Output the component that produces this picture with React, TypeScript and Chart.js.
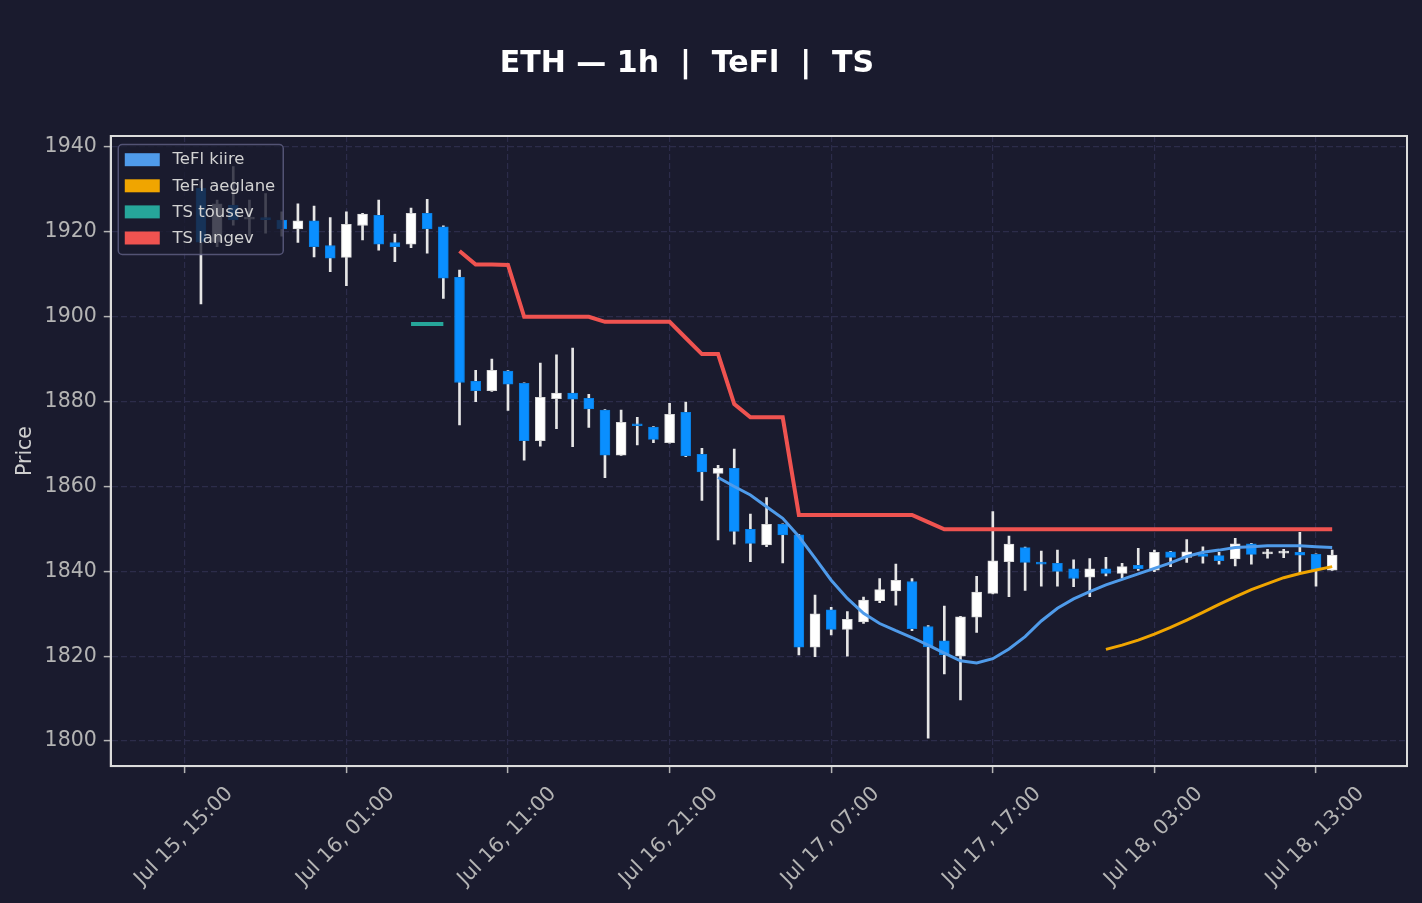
import { useEffect, useRef } from "react";
import { Chart, registerables } from "chart.js";

Chart.register(...registerables);

// hourly candles, index 0 = Jul 15 16:00
const opens = [
  1930.3, 1917.6, 1926.3, 1923.0, 1923.1, 1922.8, 1920.7, 1922.6, 1916.8, 1914.0,
  1921.5, 1923.9, 1917.5, 1917.1, 1924.4, 1921.2, 1909.3, 1884.8, 1882.6, 1887.2,
  1884.3, 1870.8, 1880.7, 1882.0, 1880.8, 1878.0, 1867.4, 1874.6, 1874.0, 1870.3,
  1877.5, 1867.6, 1863.1, 1864.3, 1849.9, 1846.2, 1851.1, 1848.6, 1822.1, 1830.9,
  1826.3, 1828.1, 1833.1, 1835.4, 1837.6, 1827.0, 1823.6, 1820.0, 1829.2, 1834.8,
  1842.3, 1845.6, 1842.0, 1841.9, 1840.6, 1838.6, 1840.6, 1839.5, 1841.4, 1840.3,
  1844.6, 1843.3, 1844.1, 1843.7, 1842.9, 1846.5, 1844.1, 1844.3, 1844.5, 1844.0,
  1840.3,
];
const highs = [
  1932.0, 1927.5, 1935.4, 1927.5, 1929.0, 1924.7, 1926.6, 1926.1, 1923.4, 1924.7,
  1924.4, 1927.5, 1919.5, 1925.6, 1927.7, 1921.4, 1911.0, 1887.4, 1890.0, 1887.3,
  1884.4, 1889.1, 1891.0, 1892.6, 1881.7, 1878.1, 1878.0, 1876.3, 1874.1, 1879.6,
  1879.9, 1869.0, 1865.0, 1868.8, 1853.5, 1857.4, 1851.2, 1848.7, 1834.4, 1831.5,
  1830.5, 1833.9, 1838.3, 1841.7, 1838.3, 1827.2, 1831.8, 1829.4, 1838.8, 1854.1,
  1848.3, 1845.7, 1844.8, 1845.0, 1842.7, 1843.0, 1843.3, 1841.9, 1845.4, 1845.0,
  1844.7, 1847.5, 1845.8, 1844.5, 1847.8, 1846.6, 1845.2, 1845.2, 1849.2, 1844.1,
  1845.0,
];
const lows = [
  1903.0, 1916.5, 1921.6, 1919.0, 1919.7, 1919.0, 1917.5, 1914.1, 1910.6, 1907.3,
  1918.1, 1915.7, 1913.0, 1916.3, 1915.0, 1904.3, 1874.5, 1880.0, 1882.4, 1877.9,
  1866.2, 1869.5, 1873.6, 1869.4, 1873.9, 1862.1, 1867.3, 1869.8, 1870.3, 1870.2,
  1867.0, 1856.7, 1847.4, 1846.4, 1842.3, 1845.8, 1842.0, 1820.3, 1819.9, 1825.0,
  1820.0, 1827.7, 1832.6, 1832.0, 1826.0, 1800.7, 1815.8, 1809.7, 1825.6, 1834.7,
  1834.0, 1835.5, 1836.5, 1836.5, 1836.4, 1834.0, 1838.9, 1838.5, 1840.2, 1839.9,
  1841.1, 1842.1, 1841.9, 1841.7, 1841.3, 1841.7, 1843.1, 1843.2, 1839.5, 1836.5,
  1840.2,
];
const closes = [
  1917.6, 1926.6, 1922.8, 1923.2, 1922.9, 1920.7, 1922.6, 1916.5, 1913.8, 1921.8,
  1924.2, 1917.1, 1916.5, 1924.4, 1920.7, 1909.1, 1884.5, 1882.6, 1887.4, 1884.1,
  1870.8, 1881.0, 1882.0, 1880.6, 1878.3, 1867.4, 1875.1, 1874.3, 1871.1, 1877.0,
  1867.2, 1863.4, 1864.3, 1849.4, 1846.6, 1851.1, 1848.6, 1822.1, 1830.0, 1826.3,
  1828.7, 1833.2, 1835.7, 1837.9, 1826.5, 1822.2, 1820.3, 1829.3, 1835.1, 1842.5,
  1846.4, 1842.1, 1841.7, 1840.0, 1838.3, 1840.6, 1839.5, 1841.1, 1840.6, 1844.5,
  1843.3, 1844.6, 1843.5, 1842.5, 1846.5, 1844.0, 1844.3, 1844.5, 1843.8, 1840.3,
  1843.8,
];

const N = null;
const tefiKiire = [
  N, N, N, N, N, N, N, N, N, N, N, N, N, N, N, N, N, N, N, N,
  N, N, N, N, N, N, N, N, N, N, N, N,
  1862.1, 1860.0, 1858.0, 1855.2, 1852.5, 1848.2, 1843.1, 1837.9, 1833.6, 1830.1,
  1827.7, 1826.0, 1824.4, 1822.6, 1820.7, 1818.9, 1818.4, 1819.4, 1821.7, 1824.6,
  1828.3, 1831.3, 1833.5, 1835.2, 1836.8, 1838.1, 1839.4, 1840.7, 1842.0, 1843.5,
  1844.5, 1845.0, 1845.6, 1845.8, 1846.0, 1846.0, 1846.0, 1845.8, 1845.6,
];
const tefiAeglane = [
  N, N, N, N, N, N, N, N, N, N, N, N, N, N, N, N, N, N, N, N,
  N, N, N, N, N, N, N, N, N, N, N, N, N, N, N, N, N, N, N, N,
  N, N, N, N, N, N, N, N, N, N, N, N, N, N, N, N,
  1821.6, 1822.6, 1823.8, 1825.2, 1826.8, 1828.5, 1830.3, 1832.2, 1834.0, 1835.7,
  1837.1, 1838.5, 1839.5, 1840.3, 1841.1,
];
const tsTousev = [
  N, N, N, N, N, N, N, N, N, N, N, N, N,
  1898.3, 1898.3, 1898.3,
];
const tsLangev = [
  N, N, N, N, N, N, N, N, N, N, N, N, N, N, N, N,
  1915.5, 1912.3, 1912.3, 1912.2, 1900.0, 1900.0, 1900.0, 1900.0, 1900.0, 1898.8,
  1898.8, 1898.8, 1898.8, 1898.8, 1895.0, 1891.2, 1891.2, 1879.4, 1876.3, 1876.3,
  1876.3, 1853.3, 1853.3, 1853.3, 1853.3, 1853.3, 1853.3, 1853.3, 1853.3, 1851.6,
  1849.9, 1849.9, 1849.9, 1849.9, 1849.9, 1849.9, 1849.9, 1849.9, 1849.9, 1849.9,
  1849.9, 1849.9, 1849.9, 1849.9, 1849.9, 1849.9, 1849.9, 1849.9, 1849.9, 1849.9,
  1849.9, 1849.9, 1849.9, 1849.9, 1849.9,
];

// x tick positions in hours relative to first candle, and their labels
const tickHours = [-1, 9, 19, 29, 39, 49, 59, 69];
const tickLabels = [
  "Jul 15, 15:00", "Jul 16, 01:00", "Jul 16, 11:00", "Jul 16, 21:00",
  "Jul 17, 07:00", "Jul 17, 17:00", "Jul 18, 03:00", "Jul 18, 13:00",
];
const priceTicks = [1800, 1820, 1840, 1860, 1880, 1900, 1920, 1940];

const seriesNames = ["TeFl kiire", "TeFl aeglane", "TS tõusev", "TS langev"];
const seriesColors = ["#4f9bea", "#f0a500", "#26a69a", "#ef5350"];
const titleText = "ETH — 1h  |  TeFl  |  TS";

const BG = "#1a1b2e";
const UP = "#ffffff";
const DOWN = "#0a8fff";
const FONT = '"DejaVu Sans", sans-serif';
const TICK_FONT = 20.5;

export default function App() {
  const ref = useRef<HTMLCanvasElement | null>(null);

  useEffect(() => {
    document.body.style.margin = "0";
    document.body.style.background = BG;
    const canvas = ref.current;
    if (!canvas) return;

    const idx = opens.map((_, i) => i);
    const isUp = idx.map((i) => closes[i] >= opens[i]);
    const toPts = (arr: (number | null)[]) =>
      idx.map((i) => ({ x: i, y: i < arr.length ? arr[i] : null }));

    const legendPlugin = {
      id: "boxLegend",
      afterDatasetsDraw(chart: any) {
        const { ctx, chartArea } = chart;
        ctx.save();
        ctx.font = `16.5px ${FONT}`;
        const x0 = chartArea.left + 7.5;
        const y0 = chartArea.top + 8.5;
        const maxW = Math.max(...seriesNames.map((n) => ctx.measureText(n).width));
        const w = 54.2 + maxW + 8;
        const h = 110;
        ctx.beginPath();
        ctx.roundRect(x0, y0, w, h, 4);
        ctx.fillStyle = "rgba(26,27,46,0.8)";
        ctx.fill();
        ctx.lineWidth = 1.5;
        ctx.strokeStyle = "rgba(90,90,125,0.9)";
        ctx.stroke();
        ctx.textBaseline = "middle";
        ctx.textAlign = "left";
        seriesNames.forEach((n, k) => {
          const cy = y0 + 15.2 + k * 26.1;
          ctx.fillStyle = seriesColors[k];
          ctx.fillRect(x0 + 6.5, cy - 6.5, 35, 13);
          ctx.fillStyle = "#d2d2d2";
          ctx.fillText(n, x0 + 54.2, cy + 0.5);
        });
        ctx.restore();
      },
    };

    const framePlugin = {
      id: "frameAndTitle",
      afterDraw(chart: any) {
        const { ctx, chartArea } = chart;
        ctx.save();
        ctx.strokeStyle = "#dcdcdc";
        ctx.lineWidth = 2;
        ctx.strokeRect(
          chartArea.left,
          chartArea.top,
          chartArea.right - chartArea.left,
          chartArea.bottom - chartArea.top
        );
        ctx.font = `bold 30px ${FONT}`;
        ctx.fillStyle = "#ffffff";
        ctx.textAlign = "center";
        ctx.textBaseline = "middle";
        ctx.fillText(titleText, 687, 64);
        ctx.restore();
      },
    };

    const chart = new Chart(canvas, {
      type: "bar",
      data: {
        datasets: [
          {
            type: "line",
            label: seriesNames[0],
            data: toPts(tefiKiire),
            borderColor: seriesColors[0],
            borderWidth: 3,
            pointRadius: 0,
            tension: 0,
            order: 0,
          } as any,
          {
            type: "line",
            label: seriesNames[1],
            data: toPts(tefiAeglane),
            borderColor: seriesColors[1],
            borderWidth: 3,
            pointRadius: 0,
            tension: 0,
            order: 0,
          },
          {
            type: "line",
            label: seriesNames[2],
            data: toPts(tsTousev),
            borderColor: seriesColors[2],
            borderWidth: 4,
            pointRadius: 0,
            tension: 0,
            order: 0,
          },
          {
            type: "line",
            label: seriesNames[3],
            data: toPts(tsLangev),
            borderColor: seriesColors[3],
            borderWidth: 4,
            pointRadius: 0,
            tension: 0,
            order: 0,
          },
          {
            type: "bar",
            label: "body",
            data: idx.map((i) => ({ x: i, y: [opens[i], closes[i]] })) as any,
            backgroundColor: idx.map((i) => (isUp[i] ? UP : DOWN)),
            borderColor: idx.map((i) => (isUp[i] ? "#d8d8d8" : "#0a7ee0")),
            borderWidth: 1,
            borderSkipped: false,
            barThickness: 10,
            minBarLength: 2,
            grouped: false,
            order: 1,
          },
          {
            type: "bar",
            label: "wick",
            data: idx.map((i) => ({ x: i, y: [lows[i], highs[i]] })) as any,
            backgroundColor: "#e6e6e6",
            borderWidth: 0,
            barThickness: 2,
            grouped: false,
            order: 2,
          },
        ],
      },
      options: {
        animation: false,
        responsive: false,
        devicePixelRatio: 1,
        layout: { padding: { left: 0, right: 15, top: 136, bottom: 3 } },
        plugins: {
          legend: { display: false },
          tooltip: { enabled: false },
          title: { display: false },
        },
        scales: {
          x: {
            type: "linear",
            offset: false,
            min: -5.58,
            max: 74.63,
            afterBuildTicks: (axis: any) => {
              axis.ticks = tickHours.map((v) => ({ value: v }));
            },
            ticks: {
              autoSkip: false,
              maxRotation: 45,
              minRotation: 45,
              labelOffset: 45,
              padding: 9,
              color: "#b4b4b4",
              font: { family: FONT, size: TICK_FONT },
              callback: (_v: any, i: number) => tickLabels[i],
            },
            grid: {
              offset: false,
              color: "#2c2c4a",
              lineWidth: 1.2,
              tickColor: "#b4b4b4",
              tickLength: 7,
              tickWidth: 1.5,
            },
            border: { display: true, color: "#dcdcdc", width: 2, dash: [6, 3] },
          },
          y: {
            type: "linear",
            min: 1794.1,
            max: 1942.6,
            afterBuildTicks: (axis: any) => {
              axis.ticks = priceTicks.map((v) => ({ value: v }));
            },
            ticks: {
              padding: 7,
              color: "#b4b4b4",
              font: { family: FONT, size: TICK_FONT },
              callback: (v: any) => String(v),
            },
            grid: {
              color: "#2c2c4a",
              lineWidth: 1.2,
              tickColor: "#b4b4b4",
              tickLength: 7,
              tickWidth: 1.5,
            },
            border: { display: true, color: "#dcdcdc", width: 2, dash: [6, 3] },
            title: {
              display: true,
              text: "Price",
              color: "#cfcfcf",
              font: { family: FONT, size: TICK_FONT },
              padding: { top: 13, bottom: 0 },
            },
          },
        },
      },
      plugins: [legendPlugin, framePlugin],
    });

    return () => chart.destroy();
  }, []);

  return (
    <div style={{ width: 1422, height: 903, background: BG }}>
      <canvas ref={ref} width={1422} height={903} style={{ display: "block" }} />
    </div>
  );
}
